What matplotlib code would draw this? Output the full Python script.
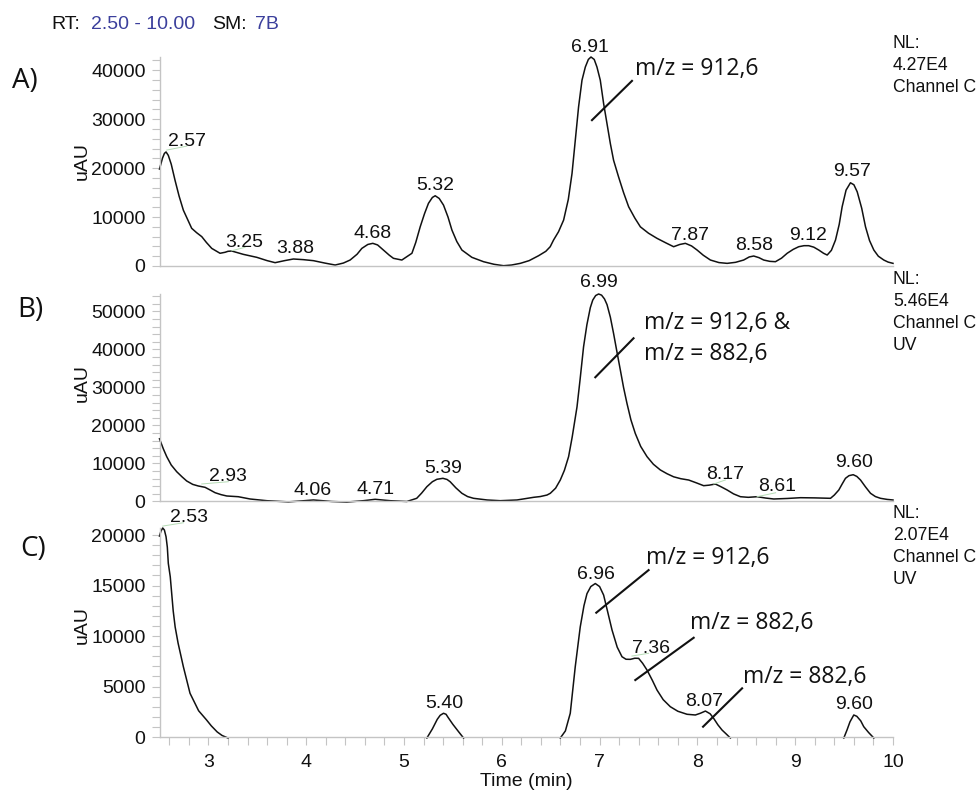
import matplotlib
matplotlib.use("Agg")
import matplotlib.pyplot as plt
from matplotlib.ticker import MultipleLocator

plt.rcParams['font.family'] = ['Liberation Sans', 'DejaVu Sans']

# ---------------- data ----------------
# Panel A
a_t = [2.50, 2.53, 2.55, 2.567, 2.59, 2.62, 2.659, 2.70, 2.744, 2.829, 2.88, 2.932,
       2.98, 3.034, 3.119, 3.17, 3.20, 3.239, 3.357, 3.495, 3.60, 3.682, 3.78, 3.869,
       3.97, 4.074, 4.19, 4.296, 4.38, 4.449, 4.52, 4.569, 4.63, 4.681, 4.73, 4.790,
       4.85, 4.892, 4.978, 5.081, 5.12, 5.166, 5.21, 5.250, 5.29, 5.319, 5.36, 5.404,
       5.45, 5.490, 5.54, 5.592, 5.694, 5.813, 5.92, 6.018, 6.10, 6.189, 6.28, 6.376,
       6.45, 6.495, 6.529, 6.58, 6.632, 6.68, 6.718, 6.752, 6.785, 6.820, 6.854, 6.885,
       6.912, 6.945, 6.973, 7.007, 7.041, 7.076, 7.110, 7.143, 7.194, 7.245, 7.297, 7.36,
       7.417, 7.50, 7.587, 7.68, 7.757, 7.82, 7.877, 7.94, 7.997, 8.06, 8.133, 8.22,
       8.304, 8.39, 8.473, 8.53, 8.576, 8.63, 8.678, 8.74, 8.798, 8.86, 8.918, 8.98,
       9.036, 9.09, 9.138, 9.19, 9.241, 9.29, 9.327, 9.37, 9.412, 9.45, 9.480, 9.52,
       9.565, 9.60, 9.634, 9.68, 9.719, 9.76, 9.804, 9.85, 9.906, 9.95, 10.0]
a_v = [19800, 22000, 23000, 23300, 22600, 20800, 17500, 14300, 11400, 7700, 6800, 6000,
       4800, 3600, 2600, 2800, 3000, 3060, 2380, 1770, 1100, 680, 1100, 1430,
       1300, 1090, 600, 200, 600, 1220, 2400, 3600, 4400, 4630, 4300, 3260,
       2200, 1570, 1220, 2600, 4800, 8030, 10700, 12800, 14000, 14350, 13800, 12440,
       10000, 7340, 5000, 3260, 1770, 880, 350, 60, 200, 540, 1100, 2100,
       3000, 3940, 5300, 7000, 9380, 13600, 18900, 25700, 32500, 37960, 40650, 42200,
       42700, 42200, 40650, 37960, 33200, 29100, 25000, 21600, 18200, 15000, 12100, 9800,
       8000, 6700, 5650, 4700, 3940, 4400, 4630, 4100, 3260, 2200, 1220, 700,
       540, 750, 1220, 1850, 2040, 1700, 1220, 950, 880, 1600, 2600, 3400,
       3940, 4150, 4150, 3850, 3260, 2600, 2240, 3200, 5300, 8500, 12100, 15500,
       17000, 16600, 15160, 11800, 8000, 5200, 3260, 2000, 1220, 800, 540]
a_lab = ["2.57", "3.25", "3.88", "4.68", "5.32", "6.91", "7.87", "8.58", "9.12", "9.57"]
a_lab_t = [2.784, 3.362, 3.889, 4.683, 5.322, 6.905, 7.920, 8.585, 9.127, 9.577]
a_lab_v = [24490, 3940, 2590, 5670, 15450, 43670, 5410, 3310, 5410, 18330]

# Panel B
b_t = [2.50, 2.54, 2.574, 2.62, 2.676, 2.73, 2.778, 2.84, 2.897, 2.966, 3.02, 3.068,
       3.13, 3.188, 3.306, 3.426, 3.597, 3.818, 3.95, 4.074, 4.17, 4.262, 4.415, 4.585,
       4.705, 4.858, 5.029, 5.130, 5.18, 5.234, 5.29, 5.336, 5.398, 5.44, 5.472, 5.53,
       5.592, 5.65, 5.711, 5.85, 5.984, 6.155, 6.325, 6.393, 6.462, 6.496, 6.55, 6.598,
       6.64, 6.683, 6.72, 6.769, 6.80, 6.836, 6.87, 6.905, 6.93, 6.96, 6.99, 7.02,
       7.05, 7.076, 7.11, 7.143, 7.18, 7.212, 7.245, 7.280, 7.32, 7.365, 7.42, 7.485,
       7.55, 7.621, 7.69, 7.757, 7.83, 7.911, 7.99, 8.064, 8.12, 8.184, 8.24, 8.304,
       8.37, 8.440, 8.52, 8.611, 8.70, 8.781, 8.92, 9.054, 9.20, 9.361, 9.40, 9.446,
       9.48, 9.514, 9.55, 9.593, 9.63, 9.668, 9.72, 9.770, 9.82, 9.872, 9.94, 10.0]
b_v = [16500, 13800, 11800, 9600, 7840, 6500, 5400, 4500, 4080, 3730, 3000, 2320,
       1800, 1450, 1260, 660, 210, -100, 150, 400, 200, 0, -150, 210,
       580, 210, 0, 840, 2200, 3900, 5200, 5840, 6100, 5800, 5200, 3600,
       2160, 1300, 840, 400, 210, 400, 1100, 1300, 1700, 2160, 3500, 5650,
       8200, 11800, 17000, 24900, 32000, 40700, 46500, 51000, 53000, 54200, 54600, 54300,
       53300, 51800, 48500, 44200, 39000, 34600, 30000, 25800, 21500, 17900, 14500, 11800,
       9800, 8300, 7300, 6500, 6000, 5650, 4900, 4160, 4300, 4600, 3900, 3030,
       2000, 1260, 1100, 1260, 900, 660, 800, 1000, 950, 840, 1700, 3030,
       4600, 6100, 6800, 7050, 6600, 5650, 3800, 2160, 1300, 840, 550, 400]
b_lab = ["2.93", "4.06", "4.71", "5.39", "6.99", "8.17", "8.61", "9.60"]
b_lab_t = [3.196, 4.065, 4.708, 5.396, 6.997, 8.284, 8.815, 9.604]
b_lab_v = [5350, 1840, 2030, 7560, 56460, 5870, 2770, 9080]

# Panel C (four separate traces)
c1_t = [2.50, 2.515, 2.533, 2.55, 2.567, 2.58, 2.590, 2.610, 2.640, 2.660, 2.690, 2.744,
        2.812, 2.900, 2.980, 3.030, 3.090, 3.140, 3.200]
c1_v = [19900, 20400, 20700, 20500, 19830, 18800, 17200, 15870, 12500, 10900, 9300, 6960,
        4330, 2600, 1700, 1100, 500, 150, -100]
c2_t = [5.234, 5.29, 5.34, 5.37, 5.404, 5.43, 5.45, 5.50, 5.56, 5.609]
c2_v = [-100, 800, 1750, 2150, 2350, 2250, 1950, 1250, 500, -100]
c3_t = [6.598, 6.65, 6.700, 6.751, 6.802, 6.84, 6.871, 6.91, 6.956, 7.00, 7.041, 7.08,
        7.127, 7.18, 7.229, 7.27, 7.314, 7.36, 7.399, 7.44, 7.485, 7.54, 7.587, 7.65,
        7.723, 7.80, 7.894, 7.979, 8.03, 8.082, 8.13, 8.166, 8.21, 8.252, 8.30, 8.337]
c3_v = [-100, 600, 2350, 6960, 10900, 13000, 14200, 14900, 15200, 14900, 14060, 12500,
        10600, 8900, 7950, 7700, 7690, 7800, 7790, 7300, 6630, 5600, 4650, 3700,
        3000, 2550, 2250, 2180, 2350, 2570, 2300, 1850, 1200, 690, 250, -100]
c4_t = [9.497, 9.53, 9.56, 9.599, 9.63, 9.67, 9.701, 9.75, 9.804]
c4_v = [-100, 700, 1500, 2180, 2050, 1600, 1020, 450, -100]
c_lab = ["2.53", "5.40", "6.96", "7.36", "8.07", "9.60"]
c_lab_t = [2.799, 5.409, 6.964, 7.524, 8.071, 9.604]
c_lab_v = [21290, 2850, 15630, 8340, 3050, 2790]

y_max = [42700, 54600, 20700]
nl_text = [["NL:", "4.27E4", "Channel C"],
           ["NL:", "5.46E4", "Channel C", "UV"],
           ["NL:", "2.07E4", "Channel C", "UV"]]
panel_letters = ["A)", "B)", "C)"]

# ---------------- figure ----------------
W, H = 979, 799
fig = plt.figure(figsize=(W / 100, H / 100), dpi=100)
grey = '#c4c4c4'
blue = '#3b3f9c'
ink = '#111111'

def fx(px):
    return px / W

def fy(py):
    return 1 - py / H

left, right = 159.5, 893.0
boxes = [(57, 266), (294, 501.5), (528, 737)]
axes = []
for (top, bot) in boxes:
    ax = fig.add_axes([fx(left), fy(bot), (right - left) / W, (bot - top) / H])
    axes.append(ax)

majors = [10000, 10000, 5000]
minors = [2000, 2000, 1000]
for i, ax in enumerate(axes):
    ax.set_xlim(2.5, 10)
    ax.set_ylim(0, y_max[i])
    ax.patch.set_alpha(0)
    for s in ['top', 'right']:
        ax.spines[s].set_visible(False)
    for s in ['left', 'bottom']:
        ax.spines[s].set_color(grey)
        ax.spines[s].set_linewidth(1.0)
    ax.yaxis.set_major_locator(MultipleLocator(majors[i]))
    ax.yaxis.set_minor_locator(MultipleLocator(minors[i]))
    ax.tick_params(axis='y', which='both', direction='out', length=6, width=0.8,
                   color=grey, labelsize=14, pad=4, labelcolor=ink)
    if i < 2:
        ax.tick_params(axis='x', which='both', bottom=False, labelbottom=False)
    else:
        ax.xaxis.set_major_locator(MultipleLocator(1))
        ax.xaxis.set_minor_locator(MultipleLocator(0.2))
        ax.tick_params(axis='x', which='both', direction='out', length=6, width=0.8,
                       color=grey, labelsize=14, pad=6, labelcolor=ink)

lw = 1.1
axA, axB, axC = axes
axA.plot(a_t, a_v, color=ink, lw=lw, clip_on=False, solid_joinstyle='round')
axB.plot(b_t, b_v, color=ink, lw=lw, clip_on=False, solid_joinstyle='round')
for tt, vv in [(c1_t, c1_v), (c2_t, c2_v), (c3_t, c3_v), (c4_t, c4_v)]:
    axC.plot(tt, vv, color=ink, lw=lw, clip_on=False, solid_joinstyle='round')

for ax, labs, lt, lv in [(axA, a_lab, a_lab_t, a_lab_v),
                         (axB, b_lab, b_lab_t, b_lab_v),
                         (axC, c_lab, c_lab_t, c_lab_v)]:
    for s, t, v in zip(labs, lt, lv):
        ax.text(t, v, s, ha='center', va='baseline', fontsize=14, color=ink, clip_on=False)

# faint green leader lines of offset peak labels
green = '#b5dcb5'
for ax, seg in [(axA, ([2.574, 2.778], [23680, 24490])),
                (axA, ([3.239, 3.375], [3120, 3820])),
                (axB, ([2.932, 3.204], [4610, 5210])),
                (axB, ([8.167, 8.286], [4610, 5660])),
                (axB, ([8.61, 8.80], [1260, 2300])),
                (axC, ([2.533, 2.744], [20890, 21220])),
                (axC, ([7.331, 7.501], [8020, 8290]))]:
    ax.plot(seg[0], seg[1], color=green, lw=0.7, clip_on=False)

# m/z annotations
mz_font = dict(family=['Open Sans', 'DejaVu Sans'], fontsize=16.5, color=ink, va='baseline', ha='left')
llw = 1.5
axA.plot([6.922, 7.331], [29800, 37820], color=ink, lw=llw)
axA.text(7.366, 38980, "m/z = 912,6", **mz_font)
axB.plot([6.956, 7.347], [32690, 42950], color=ink, lw=llw)
axB.text(7.450, 45320, "m/z = 912,6 &", **mz_font)
axB.text(7.450, 37240, "m/z = 882,6", **mz_font)
axC.plot([6.966, 7.501], [12310, 16530], color=ink, lw=llw)
axC.text(7.478, 17130, "m/z = 912,6", **mz_font)
axC.plot([7.365, 7.962], [5640, 9830], color=ink, lw=llw)
axC.text(7.928, 10660, "m/z = 882,6", **mz_font)
axC.plot([8.058, 8.457], [1020, 4820], color=ink, lw=llw, clip_on=False)
axC.text(8.467, 5380, "m/z = 882,6", **mz_font)

# NL info at right
nl_base = [48.5, 284.5, 518.0]
for lines, b0 in zip(nl_text, nl_base):
    for k, s in enumerate(lines):
        fig.text(fx(893), fy(b0 + 22 * k), s, fontsize=12.7, color=ink, ha='left', va='baseline')

# panel letters
for s, (px, py) in zip(panel_letters, [(12.5, 87.5), (17.5, 317.0), (20.0, 556.0)]):
    fig.text(fx(px), fy(py), s, fontsize=20, family=['Open Sans', 'DejaVu Sans'],
             color=ink, ha='left', va='baseline')

# y labels
for py in [161, 383, 625]:
    fig.text(fx(82), fy(py), "uAU", rotation=90, fontsize=14, color=ink, ha='center', va='center')

# x label
fig.text(fx(526), fy(782), "Time (min)", fontsize=14, color=ink, ha='center', va='center')

# header
hdr_y = fy(29.3)
fig.text(fx(51.7), hdr_y, "RT:", fontsize=14, color=ink, va='baseline')
fig.text(fx(90.7), hdr_y, "2.50 - 10.00", fontsize=14, color=blue, va='baseline')
fig.text(fx(211.7), hdr_y, "SM:", fontsize=14, color=ink, va='baseline')
fig.text(fx(255.0), hdr_y, "7B", fontsize=14, color=blue, va='baseline')

fig.savefig("out.png", dpi=100)
